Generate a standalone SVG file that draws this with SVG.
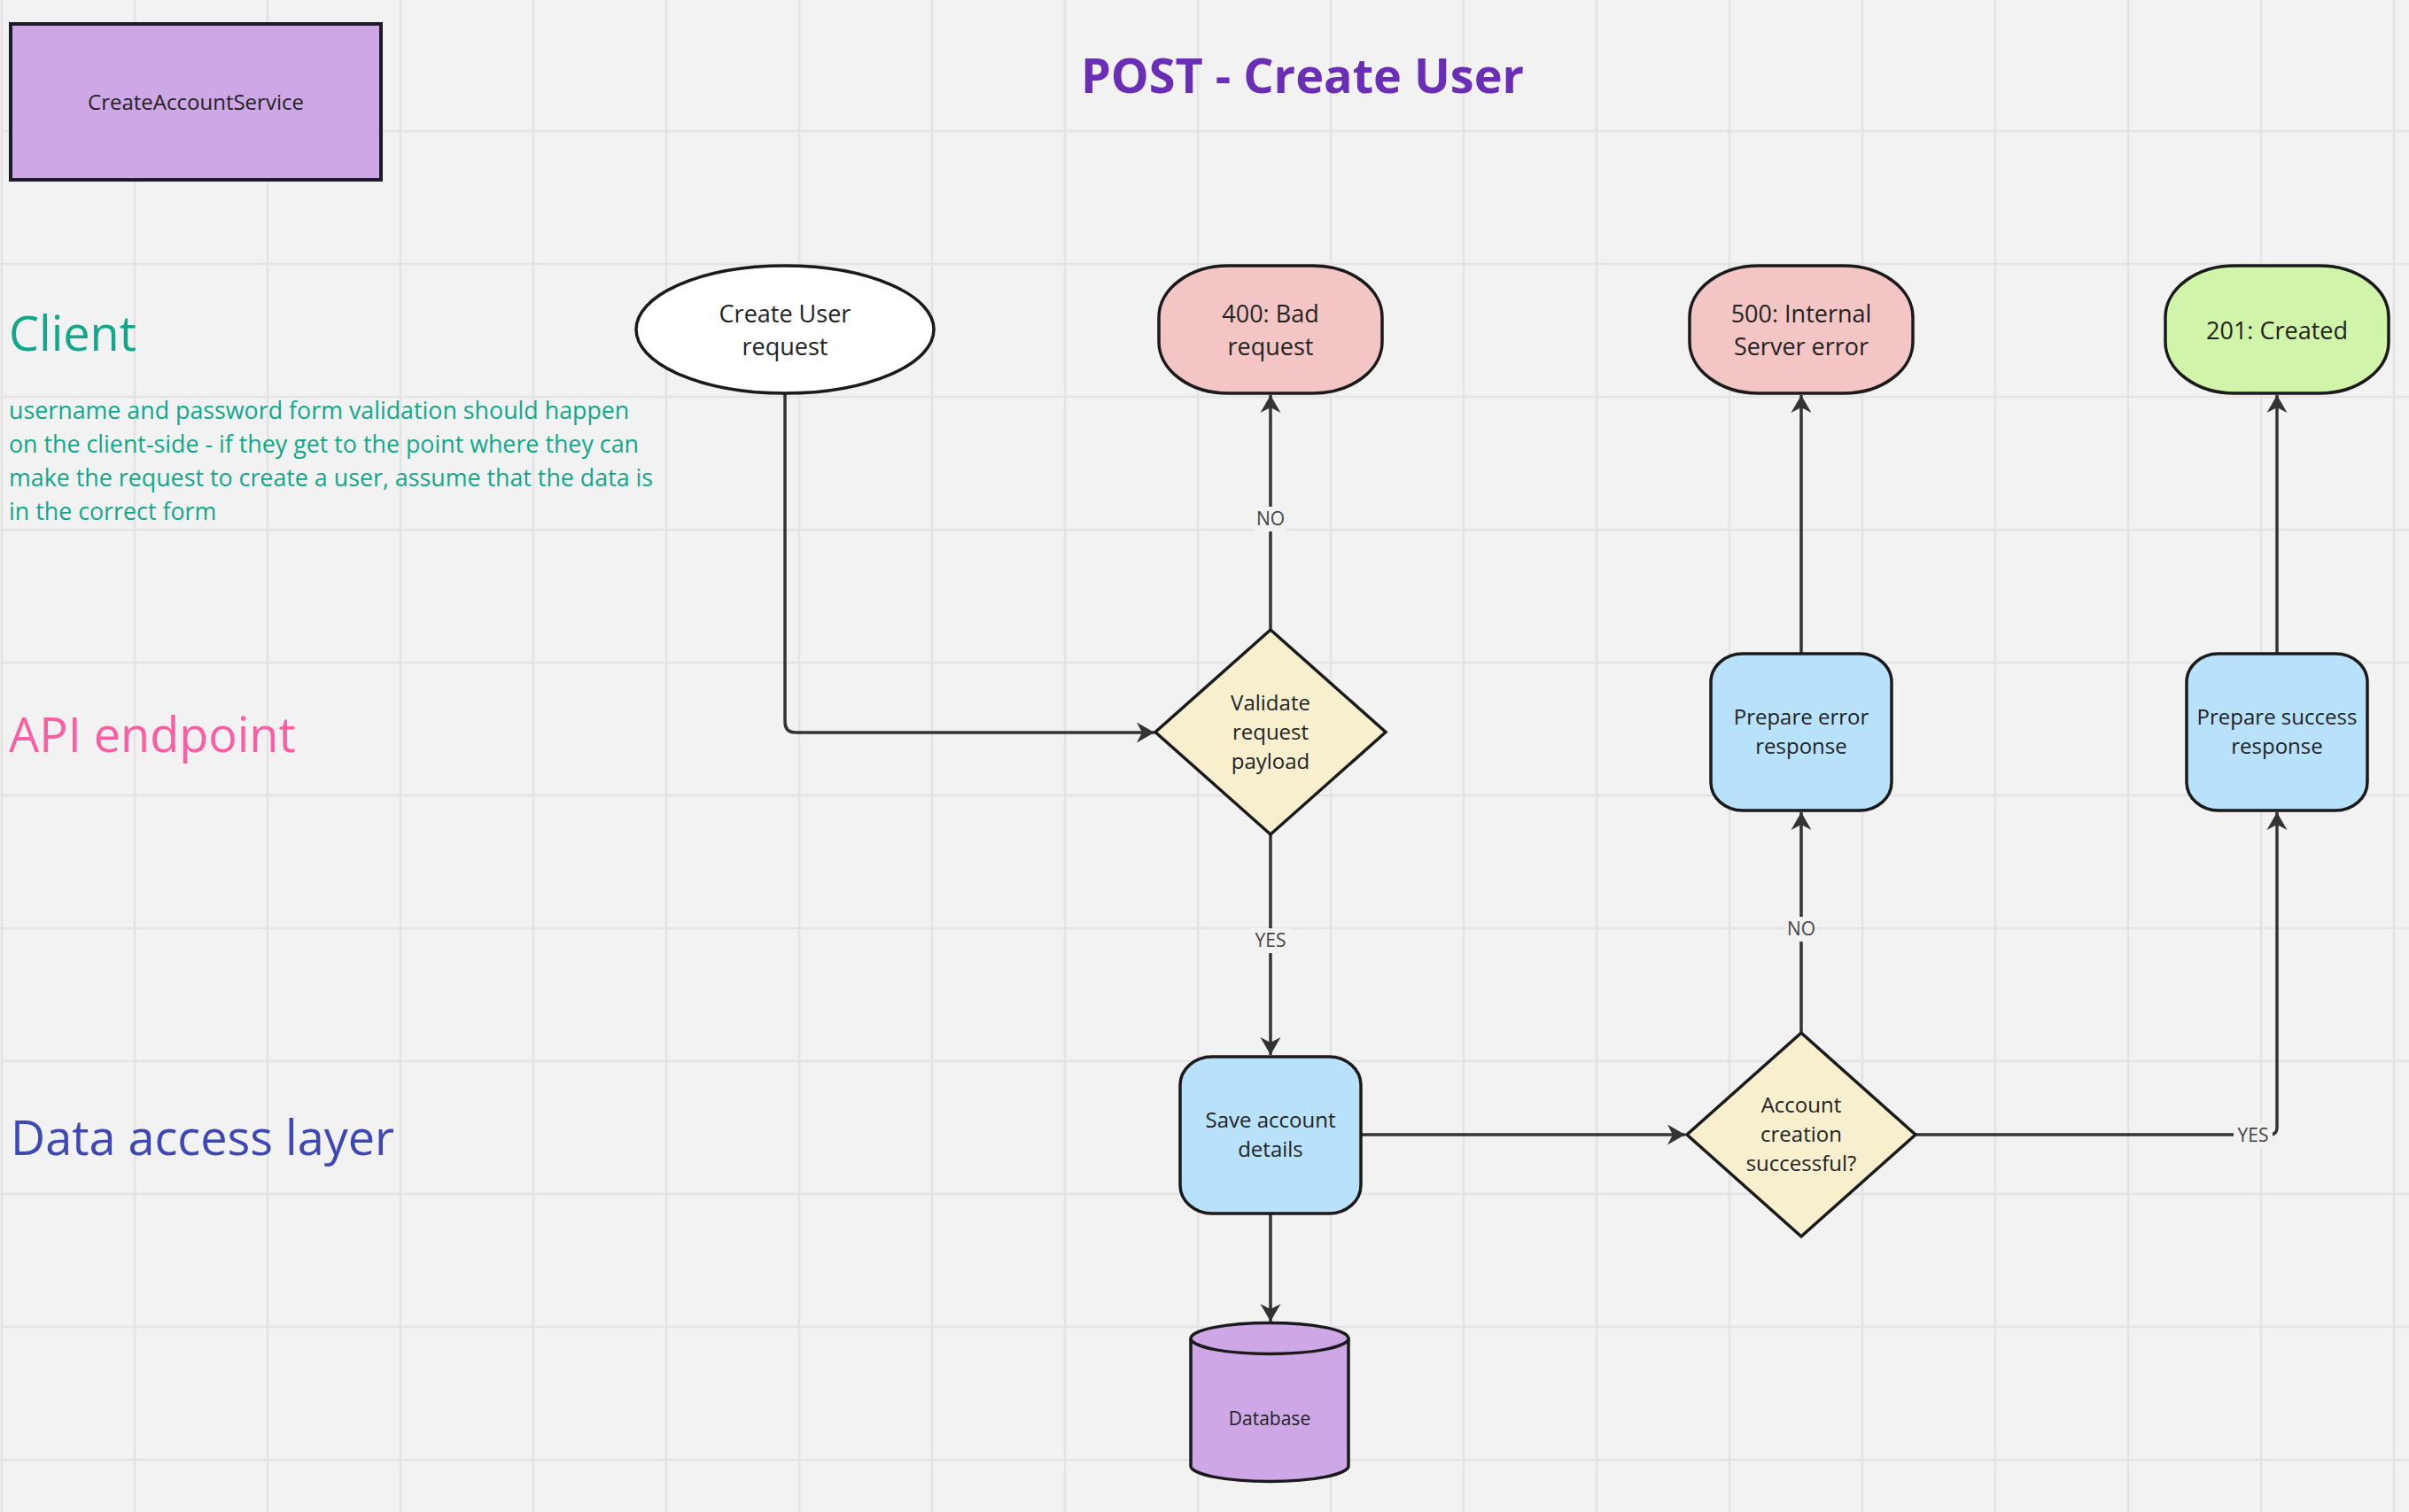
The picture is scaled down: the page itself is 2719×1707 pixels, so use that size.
<svg xmlns="http://www.w3.org/2000/svg" width="2719" height="1707" viewBox="0 0 2719 1707">
<defs>
<style>
.t{font-family:"Open Sans","Liberation Sans",sans-serif;fill:#222;text-anchor:middle}
.n{font-size:27px}
.s{font-size:24px}
.lbl{font-family:"Open Sans","Liberation Sans",sans-serif;font-size:21px;fill:#444;text-anchor:middle}
.lane{font-family:"Open Sans","Liberation Sans",sans-serif;font-size:54px}
.shape{stroke:#1a1a1a;stroke-width:3.5}
.conn{fill:none;stroke:#333;stroke-width:3.5}
.grid{stroke:#e3e3e3;stroke-width:2.5}
.lb{fill:#f2f2f2}
</style>
<marker id="arr" markerUnits="userSpaceOnUse" markerWidth="40" markerHeight="40" viewBox="-25 -20 40 40" refX="0" refY="0" orient="auto" overflow="visible">
<path d="M0,0 L-20,-11.5 L-14,0 L-20,11.5 Z" fill="#333"/>
</marker>
</defs>
<rect width="2719" height="1707" fill="#f2f2f2"/>
<g id="grid">
<path class="grid" d="M2,0V1707M152,0V1707M302,0V1707M452,0V1707M602,0V1707M752,0V1707M902,0V1707M1052,0V1707M1202,0V1707M1352,0V1707M1502,0V1707M1652,0V1707M1802,0V1707M1952,0V1707M2102,0V1707M2252,0V1707M2402,0V1707M2552,0V1707M2702,0V1707M0,148H2719M0,298H2719M0,448H2719M0,598H2719M0,748H2719M0,898H2719M0,1048H2719M0,1198H2719M0,1348H2719M0,1498H2719M0,1648H2719"/>
</g>
<g id="title">
<text x="1470" y="105" font-family="'Open Sans','Liberation Sans',sans-serif" font-size="54" font-weight="bold" fill="#6a2db5" text-anchor="middle">POST - Create User</text>
</g>
<g id="service">
<rect x="12" y="27" width="418" height="176" fill="#cea8e6" stroke="#1e1a2a" stroke-width="4"/>
<text class="t" x="221" y="124" font-size="24">CreateAccountService</text>
</g>
<g id="lane-client">
<text class="lane" x="10" y="396" fill="#10a78a">Client</text>
<text font-family="'Open Sans','Liberation Sans',sans-serif" font-size="26.8" fill="#10a78a">
<tspan x="10" y="473">username and password form validation should happen</tspan>
<tspan x="10" y="511">on the client-side - if they get to the point where they can</tspan>
<tspan x="10" y="549">make the request to create a user, assume that the data is</tspan>
<tspan x="10" y="587">in the correct form</tspan>
</text>
</g>
<g id="lane-api"><text class="lane" x="10" y="849" fill="#fb5ea3">API endpoint</text></g>
<g id="lane-data"><text class="lane" x="12" y="1304" fill="#3d47b5">Data access layer</text></g>

<g id="connectors">
<path class="conn" d="M886,444 V815 Q886,827 898,827 H1303" marker-end="url(#arr)"/>
<path class="conn" d="M1434,711 V446" marker-end="url(#arr)"/>
<path class="conn" d="M1434,942 V1191" marker-end="url(#arr)"/>
<path class="conn" d="M1434,1370 V1492" marker-end="url(#arr)"/>
<path class="conn" d="M1535,1281 H1902" marker-end="url(#arr)"/>
<path class="conn" d="M2033,1166 V917" marker-end="url(#arr)"/>
<path class="conn" d="M2162,1281 H2562 Q2570,1281 2570,1273 V917" marker-end="url(#arr)"/>
<path class="conn" d="M2033,738 V446" marker-end="url(#arr)"/>
<path class="conn" d="M2570,738 V446" marker-end="url(#arr)"/>
<rect class="lb" x="1416" y="572" width="36" height="28"/>
<text class="lbl" x="1434" y="593">NO</text>
<rect class="lb" x="1411" y="1048" width="46" height="28"/>
<text class="lbl" x="1434" y="1069">YES</text>
<rect class="lb" x="2015" y="1035" width="36" height="28"/>
<text class="lbl" x="2033" y="1056">NO</text>
<rect class="lb" x="2521" y="1268" width="44" height="28"/>
<text class="lbl" x="2543" y="1289">YES</text>
</g>

<g id="create-user-request">
<ellipse class="shape" cx="886" cy="372" rx="168" ry="72" fill="#ffffff"/>
<text class="t n"><tspan x="886" y="364">Create User</tspan><tspan x="886" y="401">request</tspan></text>
</g>
<g id="bad-request">
<rect class="shape" x="1308" y="300" width="252" height="144" rx="78" ry="58" fill="#f4c5c5"/>
<text class="t n"><tspan x="1434" y="364">400: Bad</tspan><tspan x="1434" y="401">request</tspan></text>
</g>
<g id="internal-error">
<rect class="shape" x="1907" y="300" width="252" height="144" rx="78" ry="58" fill="#f4c5c5"/>
<text class="t n"><tspan x="2033" y="364">500: Internal</tspan><tspan x="2033" y="401">Server error</tspan></text>
</g>
<g id="created">
<rect class="shape" x="2444" y="300" width="252" height="144" rx="78" ry="58" fill="#d0f4a8"/>
<text class="t n" x="2570" y="383">201: Created</text>
</g>
<g id="validate">
<polygon class="shape" points="1434,711 1564,826.5 1434,942 1304,826.5" fill="#f8efcf"/>
<text class="t s"><tspan x="1434" y="802">Validate</tspan><tspan x="1434" y="835">request</tspan><tspan x="1434" y="868">payload</tspan></text>
</g>
<g id="prepare-error">
<rect class="shape" x="1931" y="738" width="204" height="177" rx="36" ry="32" fill="#b8e2fb"/>
<text class="t s"><tspan x="2033" y="818">Prepare error</tspan><tspan x="2033" y="851">response</tspan></text>
</g>
<g id="prepare-success">
<rect class="shape" x="2468" y="738" width="204" height="177" rx="36" ry="32" fill="#b8e2fb"/>
<text class="t s"><tspan x="2570" y="818">Prepare success</tspan><tspan x="2570" y="851">response</tspan></text>
</g>
<g id="save-account">
<rect class="shape" x="1332" y="1193" width="204" height="177" rx="36" ry="32" fill="#b8e2fb"/>
<text class="t s"><tspan x="1434" y="1273">Save account</tspan><tspan x="1434" y="1306">details</tspan></text>
</g>
<g id="account-success">
<polygon class="shape" points="2033,1166 2162,1281 2033,1396 1904,1281" fill="#f8efcf"/>
<text class="t s"><tspan x="2033" y="1256">Account</tspan><tspan x="2033" y="1289">creation</tspan><tspan x="2033" y="1322">successful?</tspan></text>
</g>
<g id="database">
<path class="shape" d="M1344,1511 V1655 A89,17.5 0 0 0 1522,1655 V1511" fill="#cea8e6"/>
<ellipse class="shape" cx="1433" cy="1511" rx="89" ry="17.5" fill="#cea8e6"/>
<text class="t" x="1433" y="1609" font-size="21">Database</text>
</g>
</svg>
